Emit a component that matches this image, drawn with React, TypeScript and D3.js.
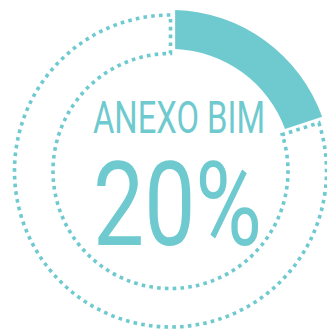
import React from "react";
import * as d3 from "d3";

const categories = ["ANEXO BIM", "Restante"];
const values = [20, 80];
const title = "ANEXO BIM";
const percentLabel = "20%";

const W = 327;
const H = 329;
const COLOR = "#6fcacf";

export default function App() {
  const cx = 170.5;
  const cy = 171;
  const pie = d3.pie<number>().sort(null).value((d) => d);
  const arcs = pie(values);

  const filledArc = d3
    .arc<d3.PieArcDatum<number>>()
    .innerRadius(122)
    .outerRadius(161)
    .padAngle(0.046);
  const restArc = d3
    .arc<d3.PieArcDatum<number>>()
    .innerRadius(117.5)
    .outerRadius(156);

  return (
    <svg
      width={W}
      height={H}
      style={{ position: "absolute", left: 0, top: 0 }}
    >
      <g transform={`translate(${cx},${cy})`}>
        <path
          d={restArc({ ...arcs[1], padAngle: 0 }) || ""}
          fill="none"
          stroke={COLOR}
          strokeWidth={3.6}
          strokeDasharray="3.6 4.2"
        />
        <path d={filledArc(arcs[0]) || ""} fill={COLOR} />
      </g>
      <text
        x={93}
        y={132.7}
        fill={COLOR}
        fontFamily="Roboto, 'DejaVu Sans'"
        fontWeight={400}
        fontSize={43.6}
        textLength={172}
        lengthAdjust="spacingAndGlyphs"
      >
        {title}
      </text>
      <text
        x={93}
        y={245}
        fill={COLOR}
        fontFamily="Roboto, 'DejaVu Sans'"
        fontWeight={400}
        fontSize={117}
        textLength={169}
        lengthAdjust="spacingAndGlyphs"
      >
        {percentLabel}
      </text>
      <desc>{categories.join(", ")}</desc>
    </svg>
  );
}
